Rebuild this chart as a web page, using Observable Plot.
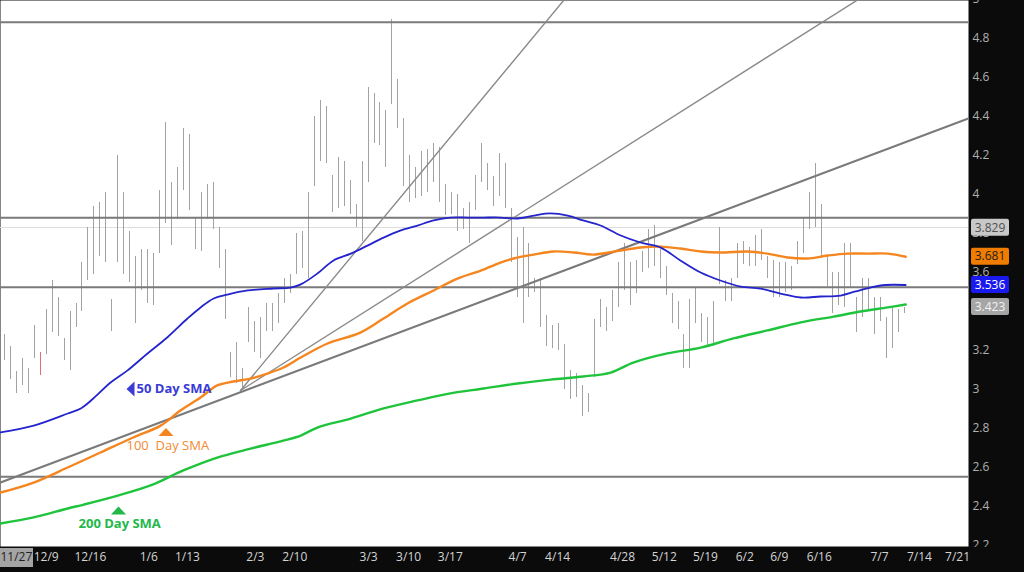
<!DOCTYPE html>
<html><head><meta charset="utf-8">
<script src="https://cdn.jsdelivr.net/npm/d3@7"></script>
<script src="https://cdn.jsdelivr.net/npm/@observablehq/plot@0.6"></script>
<style>html,body{margin:0;padding:0;background:#0b0b0b;overflow:hidden}</style>
</head><body><div id="chart"></div>
<script>
// ---- daily bar data (index = trading bar) ----
const highs = [3.28,3.22,3.09,3.16,3.11,3.33,3.19,3.41,3.56,3.47,
3.26,3.40,3.44,3.65,3.83,3.94,3.96,4.01,3.46,4.20,
4.01,3.81,3.68,3.72,3.72,3.70,4.02,4.37,4.06,4.14,
4.34,4.31,3.88,4.01,4.05,4.06,3.83,3.72,3.19,3.24,
3.11,3.42,3.35,3.37,3.44,3.44,3.49,3.57,3.59,3.80,
3.81,4.01,4.40,4.48,4.45,4.10,4.19,4.17,4.07,3.95,
4.17,4.55,4.52,4.47,4.43,4.90,4.59,4.39,4.20,4.14,
4.22,4.23,4.26,4.24,4.05,4.01,4.00,3.93,3.96,4.10,
4.26,4.16,4.09,4.21,4.16,3.93,3.78,3.83,3.75,3.57,
3.57,3.38,3.33,3.34,3.23,3.10,3.08,3.02,2.98,3.36,
3.46,3.42,3.51,3.65,3.75,3.65,3.66,3.71,3.82,3.84,
3.72,3.63,3.49,3.45,3.28,3.46,3.52,3.39,3.37,3.45,
3.83,3.56,3.57,3.75,3.76,3.73,3.79,3.82,3.68,3.66,
3.65,3.65,3.63,3.76,3.88,4.01,4.16,3.95,3.68,3.60,
3.60,3.75,3.75,3.47,3.57,3.57,3.47,3.47,3.37,3.42,
3.41,3.42];
const lows = [3.15,3.05,2.98,3.02,2.98,3.16,3.07,3.18,3.29,3.27,
3.15,3.10,3.32,3.40,3.56,3.59,3.68,3.65,3.30,3.65,
3.59,3.55,3.34,3.51,3.44,3.43,3.70,3.85,3.74,3.87,
4.02,3.92,3.72,3.71,3.87,3.82,3.62,3.36,3.06,3.03,
3.01,3.24,3.19,3.16,3.30,3.30,3.34,3.44,3.49,3.59,
3.62,3.57,4.04,4.17,4.16,3.91,3.93,3.94,3.90,3.83,
3.76,4.06,4.26,4.25,4.14,4.46,4.34,4.04,3.96,3.98,
3.99,4.01,4.06,3.96,3.89,3.90,3.81,3.82,3.75,3.92,
4.06,4.02,3.94,3.99,3.93,3.65,3.47,3.34,3.47,3.50,
3.32,3.22,3.21,3.20,3.00,2.95,2.96,2.86,2.88,3.06,
3.32,3.30,3.35,3.42,3.51,3.43,3.49,3.60,3.62,3.63,
3.57,3.48,3.34,3.31,3.11,3.11,3.34,3.24,3.22,3.22,
3.54,3.45,3.45,3.57,3.64,3.63,3.63,3.66,3.57,3.47,
3.47,3.50,3.51,3.64,3.70,3.82,3.83,3.67,3.53,3.39,
3.43,3.42,3.52,3.29,3.37,3.41,3.28,3.35,3.16,3.21,
3.29,3.39];
const redBars = [6];

// ---- moving averages [bar index, value] ----
const sma50 = [[-0.67,2.78],[4.9,2.815],[10.6,2.877],[12.8,2.903],[14.9,2.954],[17.8,3.036],[20.6,3.097],[24.0,3.185],[27.3,3.267],[30.7,3.364],[32.9,3.421],[35.1,3.467],[37.4,3.487],[40.8,3.508],[45.1,3.518],[48.0,3.523],[49.7,3.539],[52.5,3.595],[55.2,3.662],[58.1,3.697],[60.9,3.738],[63.6,3.779],[66.4,3.815],[69.3,3.841],[72.0,3.867],[74.8,3.882],[77.7,3.882],[80.4,3.882],[83.2,3.882],[86.1,3.877],[88.8,3.892],[91.6,3.903],[94.5,3.892],[97.1,3.867],[100.0,3.841],[103.4,3.79],[106.7,3.754],[110.1,3.728],[113.4,3.662],[116.8,3.600],[120.1,3.559],[123.5,3.528],[126.8,3.518],[130.2,3.492],[133.6,3.472],[136.9,3.477],[140.3,3.482],[142.8,3.503],[145.3,3.523],[147.8,3.536],[151.2,3.536]];
const sma100 = [[-0.67,2.472],[4.9,2.523],[10.6,2.600],[16.1,2.677],[21.6,2.754],[26.2,2.815],[29.5,2.892],[32.9,2.959],[35.7,3.021],[38.4,3.041],[41.3,3.056],[44.1,3.082],[46.8,3.113],[49.7,3.164],[54.2,3.236],[59.7,3.292],[63.6,3.364],[67.6,3.441],[72.0,3.508],[76.0,3.569],[79.9,3.610],[83.2,3.651],[85.4,3.672],[88.8,3.692],[92.1,3.708],[95.5,3.703],[98.8,3.692],[103.4,3.713],[106.7,3.728],[110.1,3.733],[113.4,3.723],[116.8,3.708],[120.1,3.703],[124.7,3.708],[128.0,3.697],[131.4,3.677],[134.7,3.672],[138.1,3.687],[141.4,3.697],[144.8,3.697],[148.2,3.697],[151.2,3.681]];
const sma200 = [[-0.67,2.313],[4.9,2.344],[10.6,2.390],[13.3,2.41],[19.0,2.456],[24.5,2.508],[30.0,2.585],[35.7,2.651],[41.3,2.697],[46.8,2.738],[49.7,2.764],[52.5,2.805],[58.1,2.851],[63.6,2.903],[69.3,2.944],[74.8,2.980],[80.4,3.005],[86.1,3.031],[91.6,3.051],[97.1,3.067],[101.7,3.087],[105.5,3.138],[111.2,3.185],[116.8,3.215],[122.3,3.262],[128.0,3.303],[133.6,3.344],[139.1,3.374],[143.6,3.400],[148.2,3.421],[151.2,3.436]];

// ---- drawn levels and trendlines ----
const levels = [4.884, 3.881, 3.525, 2.553];
const lastLevel = 3.829;
const trendSteep = [[39.6,2.995],[96,5.076]];
const trendMid = [[39.6,2.995],[145,5.034]];
const trendMain = [[-0.671,2.523],[161.74,4.39]];

// ---- axis ticks ----
const xTickIdx = [2.0,7.0,14.4,24.2,30.7,42.1,48.7,61.1,67.8,74.8,86.1,92.8,103.7,110.7,117.6,124.2,130.0,136.7,146.8,153.5,159.9];
const xTickLabels = ["11/27","12/9","12/16","1/6","1/13","2/3","2/10","3/3","3/10","3/17","4/7","4/14","4/28","5/12","5/19","6/2","6/9","6/16","7/7","7/14","7/21"];
const yTicks = [2.2,2.4,2.6,2.8,3.0,3.2,3.4,3.6,3.8,4.0,4.2,4.4,4.6,4.8,5.0];
const priceTags = [
  {v:3.829, label:"3.829", bg:"#c8c8c8", fg:"#505050"},
  {v:3.681, label:"3.681", bg:"#f07c00", fg:"#222222"},
  {v:3.536, label:"3.536", bg:"#1a1af0", fg:"#ffffff"},
  {v:3.423, label:"3.423", bg:"#a6a6a6", fg:"#f2f2f2"}
];

const bars = highs.map((h,i)=>({i, high:h, low:lows[i], red: redBars.includes(i)}));
const labelMap = new Map(xTickIdx.map((t,k)=>[t, xTickLabels[k]]));

const leftTri = {draw(c){c.moveTo(4,-7.5);c.lineTo(-4,0);c.lineTo(4,7.5);c.closePath();}};
const upTri = {draw(c){c.moveTo(-7.5,4);c.lineTo(0,-4);c.lineTo(7.5,4);c.closePath();}};

const BLUE="#2424cc", ORANGE="#f5861f", GREEN="#1fc43c";
const font = "'Open Sans', 'DejaVu Sans', sans-serif";

const chart = Plot.plot({
  width:1024, height:572,
  marginLeft:0, marginRight:56, marginTop:0, marginBottom:26,
  style:{background:"#0b0b0b", fontFamily:font, fontSize:"12px", overflow:"visible"},
  x:{type:"linear", domain:[-0.671,161.74]},
  y:{domain:[2.195,4.995]},
  marks:[
    Plot.frame({fill:"white", stroke:"none"}),
    Plot.ruleY([lastLevel], {stroke:"#dddddd", strokeWidth:1, shapeRendering:"crispEdges"}),
    Plot.ruleX(bars, {x:"i", y1:"low", y2:"high", stroke:d=>d.red?"#e07070":"#a2a2a2", strokeWidth:1, shapeRendering:"crispEdges"}),
    Plot.ruleY(levels, {stroke:"#7a7a7a", strokeWidth:2}),
    Plot.line(trendSteep, {x:d=>d[0], y:d=>d[1], stroke:"#8a8a8a", strokeWidth:1.4, clip:true}),
    Plot.line(trendMid, {x:d=>d[0], y:d=>d[1], stroke:"#8a8a8a", strokeWidth:1.4, clip:true}),
    Plot.line(trendMain, {x:d=>d[0], y:d=>d[1], stroke:"#7a7a7a", strokeWidth:2.2, clip:true}),
    Plot.line(sma200, {x:d=>d[0], y:d=>d[1], stroke:GREEN, strokeWidth:2.4, curve:"catmull-rom"}),
    Plot.line(sma100, {x:d=>d[0], y:d=>d[1], stroke:ORANGE, strokeWidth:2.4, curve:"catmull-rom"}),
    Plot.line(sma50, {x:d=>d[0], y:d=>d[1], stroke:BLUE, strokeWidth:1.8, curve:"catmull-rom"}),
    // annotations
    Plot.dot([[21.14,3.003]], {x:d=>d[0], y:d=>d[1], symbol:leftTri, fill:"#3a3ad6", stroke:"none"}),
    Plot.text([[22.15,3.005]], {x:d=>d[0], y:d=>d[1], text:()=>"50 Day SMA", fill:"#3a3ad6", textAnchor:"start", fontWeight:"bold", fontSize:13}),
    Plot.dot([[27.1,2.782]], {x:d=>d[0], y:d=>d[1], symbol:upTri, fill:ORANGE, stroke:"none"}),
    Plot.text([[20.47,2.713]], {x:d=>d[0], y:d=>d[1], text:()=>"100\u00a0\u00a0Day SMA", fill:"#f28a30", textAnchor:"start", fontSize:13}),
    Plot.dot([[19.13,2.38]], {x:d=>d[0], y:d=>d[1], symbol:upTri, fill:"#22b84a", stroke:"none"}),
    Plot.text([[12.42,2.313]], {x:d=>d[0], y:d=>d[1], text:()=>"200 Day SMA", fill:"#22b84a", textAnchor:"start", fontWeight:"bold", fontSize:13}),
    // axes
    Plot.axisY({anchor:"right", ticks:yTicks, tickSize:0, tickPadding:4, textAnchor:"start", tickFormat:d=>`${+d.toFixed(1)}`, fill:"#b0b0b0", label:null, fontSize:12}),
    Plot.axisX({ticks:xTickIdx, tickSize:0, tickPadding:6, tickFormat:d=>labelMap.get(d), fill:"#d4d4d4", label:null, fontSize:12})
  ]
});

const svg = d3.select(chart);
const xs = chart.scale("x"), ys = chart.scale("y");
// highlight box behind first date label
const x0 = xs.apply(xTickIdx[0]);
svg.insert("rect", ":first-child").attr("x", Math.max(0, x0-17)).attr("y", 548).attr("width", 33).attr("height", 19).attr("fill", "#a4a4a4");
svg.selectAll("text").filter(function(){ return this.textContent === xTickLabels[0]; }).attr("fill", "#222");
// bottom band hides the lowest price label, as in the reference
svg.insert("rect", '[aria-label="x-axis tick label"]').attr("x", 969).attr("y", 547).attr("width", 55).attr("height", 25).attr("fill", "#0b0b0b");
// price tags on the right axis
const tags = svg.append("g").attr("font-family", font).attr("font-size", 12);
priceTags.forEach(t=>{
  const y = ys.apply(t.v);
  tags.append("rect").attr("x", 971).attr("y", y-8.5).attr("width", 38).attr("height", 17).attr("rx", 2).attr("fill", t.bg);
  tags.append("text").attr("x", 990).attr("y", y).attr("dy", "0.35em").attr("text-anchor", "middle").attr("fill", t.fg).text(t.label);
});
document.getElementById("chart").append(chart);
</script>
</body></html>
